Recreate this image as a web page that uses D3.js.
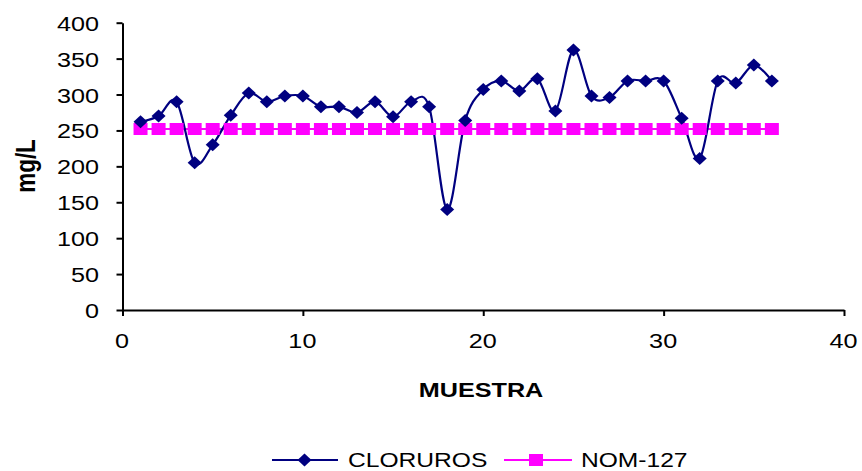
<!DOCTYPE html>
<html>
<head>
<meta charset="utf-8">
<script src="https://cdn.jsdelivr.net/npm/d3@7"></script>
<style>
  html, body { margin: 0; padding: 0; background: #fff; }
  svg { display: block; }
  text { font-family: "Liberation Sans", Arial, sans-serif; fill: #000; }
</style>
</head>
<body>
<svg id="chart" width="862" height="471"></svg>
<script>
// ---- data ----
const muestra = [1,2,3,4,5,6,7,8,9,10,11,12,13,14,15,16,17,18,19,20,21,22,23,24,25,26,27,28,29,30,31,32,33,34,35,36];
const cloruros = [262,270,290,205,230,271,302,290,298,298,283,283,275,290,269,290,283,140,264,307,319,305,322,277,362,298,296,319,319,319,267,211,319,316,341,319];
const nom127 = [252,252,252,252,252,252,252,252,252,252,252,252,252,252,252,252,252,252,252,252,252,252,252,252,252,252,252,252,252,252,252,252,252,252,252,252];
const xTicks = [0,10,20,30,40];
const yTicks = [0,50,100,150,200,250,300,350,400];
const seriesNames = ["CLORUROS","NOM-127"];

// ---- layout ----
const svg = d3.select("#chart");
const SX = 1.2; // horizontal text stretch seen in reference
const x = d3.scaleLinear().domain([0,40]).range([122.5,844]);
const y = d3.scaleLinear().domain([0,400]).range([310,22.7]);
const navy = "#000080", pink = "#FF00FF";

// axes
const yAxis = svg.append("g").attr("transform", `translate(${x(0)},0)`)
  .call(d3.axisLeft(y).tickValues(yTicks).tickSize(6).tickSizeOuter(0));
const xAxis = svg.append("g").attr("transform", `translate(0,${y(0)})`)
  .call(d3.axisBottom(x).tickValues(xTicks).tickSize(6).tickSizeOuter(0));
[yAxis, xAxis].forEach(g => {
  g.select(".domain").attr("stroke", "#000").attr("stroke-width", 2);
  g.selectAll(".tick line").attr("stroke", "#000").attr("stroke-width", 2);
  g.selectAll(".tick text").attr("font-size", 21).attr("font-family", "Liberation Sans, Arial, sans-serif").attr("fill", "#000");
});
yAxis.selectAll(".tick text").attr("x", null).attr("dy", null)
  .attr("transform", "translate(-23.5,7.5) scale(" + SX + ",1)").attr("text-anchor", "end");
xAxis.selectAll(".tick text").attr("y", null).attr("dy", null)
  .attr("transform", "translate(-1,38) scale(" + SX + ",1)").attr("text-anchor", "middle");

// axis titles
svg.append("text").attr("transform", `translate(481,396.5) scale(${SX},1)`)
  .attr("text-anchor", "middle").attr("font-size", 21).attr("font-weight", "bold").text("MUESTRA");
svg.append("text").attr("transform", `translate(35,166) scale(${SX},1) rotate(-90)`)
  .attr("text-anchor", "middle").attr("font-size", 22.5).attr("font-weight", "bold").text("mg/L");

// series
const lineC = d3.line().x((d,i) => x(muestra[i])).y(d => y(d)).curve(d3.curveCatmullRom.alpha(0));
const lineN = d3.line().x((d,i) => x(muestra[i])).y(d => y(d));

svg.append("path").datum(nom127).attr("d", lineN).attr("fill", "none").attr("stroke", pink).attr("stroke-width", 2);
svg.append("path").datum(cloruros).attr("d", lineC).attr("fill", "none").attr("stroke", navy).attr("stroke-width", 2.2);

const diamond = (cx, cy, w, h) => `M${cx},${cy-h/2}L${cx+w/2},${cy}L${cx},${cy+h/2}L${cx-w/2},${cy}Z`;

svg.append("g").selectAll("rect").data(nom127).join("rect")
  .attr("x", (d,i) => x(muestra[i]) - 7).attr("y", d => y(d) - 6)
  .attr("width", 14).attr("height", 12).attr("fill", pink);

svg.append("g").selectAll("path").data(cloruros).join("path")
  .attr("d", (d,i) => diamond(x(muestra[i]), y(d), 14, 13)).attr("fill", navy);

// legend
const ly = 460;
const leg = svg.append("g");
leg.append("line").attr("x1", 272).attr("x2", 338).attr("y1", ly).attr("y2", ly).attr("stroke", navy).attr("stroke-width", 2);
leg.append("path").attr("d", diamond(304.5, ly, 14, 13)).attr("fill", navy);
leg.append("text").attr("transform", `translate(348,${ly+6.5}) scale(${SX},1)`).attr("font-size", 20.5).text(seriesNames[0]);
leg.append("line").attr("x1", 504).attr("x2", 572).attr("y1", ly).attr("y2", ly).attr("stroke", pink).attr("stroke-width", 2);
leg.append("rect").attr("x", 529).attr("y", ly-6).attr("width", 14).attr("height", 12).attr("fill", pink);
leg.append("text").attr("transform", `translate(581,${ly+6.5}) scale(${SX},1)`).attr("font-size", 20.5).text(seriesNames[1]);
</script>
</body>
</html>
